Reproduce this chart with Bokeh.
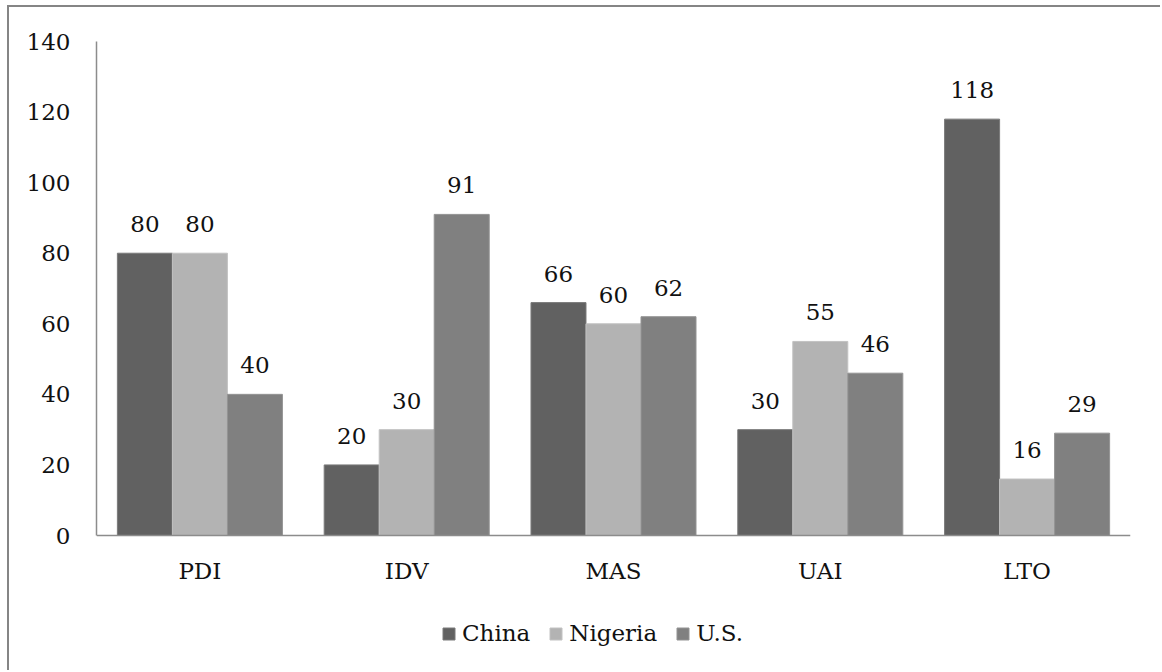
from bokeh.plotting import figure
from bokeh.models import ColumnDataSource, FactorRange, Range1d, Legend, LegendItem, FixedTicker
from bokeh.transform import dodge
from bokeh.core.properties import value
from bokeh.embed import file_html
from bokeh.resources import INLINE

categories = ["PDI", "IDV", "MAS", "UAI", "LTO"]
series_names = ["China", "Nigeria", "U.S."]
china = [80, 20, 66, 30, 118]
nigeria = [80, 30, 60, 55, 16]
us = [40, 91, 62, 46, 29]
y_ticks = [0, 20, 40, 60, 80, 100, 120, 140]

fills = ["#616161", "#b3b3b3", "#808080"]
edges = ["#7a7a7a", "#c2c2c2", "#939393"]
FONT = "DejaVu Serif"
FS = "23px"

# layout geometry (pixels)
W, H = 1153, 665
TOP, LEFT, RIGHT = 34, 87, 32
PLOT_PX = 494.0          # pixels spanned by 0..140
frame_h = H - TOP
y_start = 140 - frame_h * 140 / PLOT_PX

src = ColumnDataSource(dict(
    cat=categories,
    s0=china, s1=nigeria, s2=us,
    t0=[str(v) for v in china], t1=[str(v) for v in nigeria], t2=[str(v) for v in us],
))

p = figure(width=W, height=H, x_range=FactorRange(*categories, range_padding=0),
           y_range=Range1d(y_start, 140), output_backend="svg", toolbar_location=None,
           min_border_left=LEFT, min_border_right=RIGHT, min_border_top=TOP, min_border_bottom=0)
p.margin = (5, 0, 0, 7)
p.styles = {"border-left": "2px solid #858585", "border-top": "2px solid #858585"}
p.outline_line_color = None
p.xgrid.grid_line_color = None
p.ygrid.grid_line_color = None
p.background_fill_color = "white"
p.border_fill_color = "white"

bw = 0.266
offsets = [-bw, 0.0, bw]
renderers = []
for i in range(3):
    r = p.vbar(x=dodge("cat", offsets[i], range=p.x_range), top=f"s{i}", width=bw, bottom=0,
               source=src, fill_color=fills[i], line_color=edges[i], line_width=1)
    renderers.append(r)
    p.text(x=dodge("cat", offsets[i], range=p.x_range), y=f"s{i}", text=f"t{i}", source=src,
           text_align="center", text_baseline="alphabetic", y_offset=-29,
           text_font=value(FONT), text_font_size=FS, text_color="#111111")

for ax in (p.xaxis[0], p.yaxis[0]):
    ax.axis_line_color = "#8c8c8c"
    ax.axis_line_width = 1.5
    ax.major_tick_line_color = None
    ax.minor_tick_line_color = None
    ax.major_tick_out = 0
    ax.major_tick_in = 0
    ax.major_label_text_font = FONT
    ax.major_label_text_font_size = FS
    ax.major_label_text_color = "#111111"
p.yaxis[0].ticker = FixedTicker(ticks=y_ticks)
p.yaxis[0].bounds = (0, 140)
p.yaxis[0].major_label_standoff = 26
p.xaxis[0].fixed_location = 0
p.xaxis[0].major_label_standoff = 22

legend = Legend(items=[LegendItem(label=series_names[i], renderers=[renderers[i]]) for i in range(3)],
                orientation="horizontal", location=(345, 26), padding=0, margin=0,
                border_line_color=None, background_fill_alpha=0,
                glyph_width=15, glyph_height=15, label_standoff=6, spacing=18,
                label_text_font=FONT, label_text_font_size=FS, label_text_color="#111111")
p.add_layout(legend, "center")

open("out.html", "w").write(file_html(p, INLINE))
